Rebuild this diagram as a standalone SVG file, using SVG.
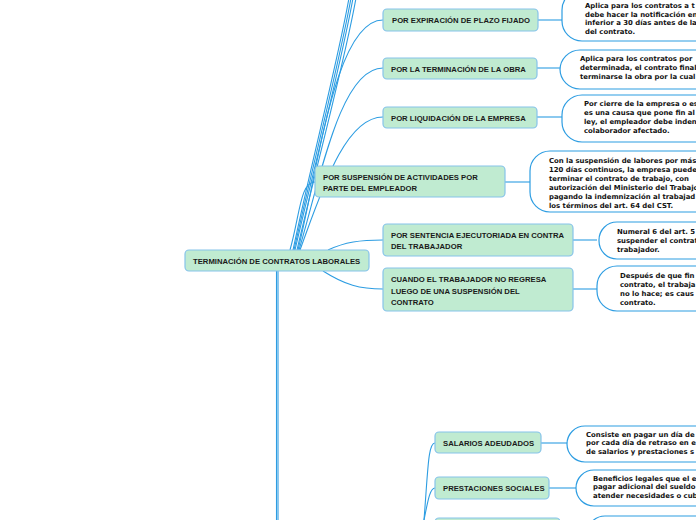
<svg xmlns="http://www.w3.org/2000/svg" width="696" height="520" viewBox="0 0 696 520">
<style>
.n rect{fill:#c0ebd1;stroke:#86c3ea;stroke-width:1.2}
.n text{font-family:"Liberation Sans",Arial,sans-serif;font-weight:bold;font-size:7.7px;fill:#1a1a1a}
.d path{fill:#fff;stroke:#2d9de2;stroke-width:1.2}
.d text{font-family:"DejaVu Sans",Verdana,sans-serif;font-weight:bold;font-size:6.9px;fill:#111}
.c path{fill:none;stroke:#2d9de2;stroke-width:1.1}
</style>
<rect width="696" height="520" fill="#fff"/>
<g class="c" id="connectors">
<path d="M293 250 C312 160 338 60 349 -2"/>
<path d="M294 250 C314 160 340 60 351 -2"/>
<path d="M295 250 C316 160 342 60 353 -2"/>
<path d="M297 250 C318 160 345 60 356 -2"/>
<path d="M298 250 C318 170 335 20 383 20"/>
<path d="M299 250 C320 180 340 68 383 68"/>
<path d="M300 250 C322 190 345 117 383 117"/>
<path d="M290 250 C300 215 300 182 315 182"/>
<path d="M328 250 C345 242 360 240 383 240"/>
<path d="M323 271 C345 285 360 289 383 289"/>
<path d="M276.5 271 L276.5 520" stroke-width="1.4"/>
<path d="M278 271 L278 520" stroke-width="1.4"/>
<path d="M538 20 L562 20"/>
<path d="M537 68 L560 68"/>
<path d="M537 117 L562 117"/>
<path d="M505 182 L530 182"/>
<path d="M573 240 L597 240"/>
<path d="M573 289 L597 289"/>
<path d="M541 443 L567 443"/>
<path d="M549 488 L576 488"/>
<path d="M424 520 C428 470 428 443 435 443"/>
<path d="M424 520 C428 500 430 488 435 488"/>
</g>
<g class="n" id="central"><rect x="185" y="250" width="184" height="21" rx="4"/><text x="193" y="264">TERMINACIÓN DE CONTRATOS LABORALES</text></g>
<g class="n" id="n1"><rect x="383" y="9" width="155" height="22" rx="4"/><text x="392" y="23">POR EXPIRACIÓN DE PLAZO FIJADO</text></g>
<g class="n" id="n2"><rect x="383" y="58" width="154" height="21" rx="4"/><text x="391" y="72">POR LA TERMINACIÓN DE LA OBRA</text></g>
<g class="n" id="n3"><rect x="383" y="107" width="154" height="21" rx="4"/><text x="391" y="121">POR LIQUIDACIÓN DE LA EMPRESA</text></g>
<g class="n" id="n4"><rect x="315" y="166" width="190" height="31" rx="4"/><text x="323" y="180">POR SUSPENSIÓN DE ACTIVIDADES POR</text><text x="323" y="191">PARTE DEL EMPLEADOR</text></g>
<g class="n" id="n5"><rect x="383" y="224" width="190" height="32" rx="4"/><text x="391" y="238">POR SENTENCIA EJECUTORIADA EN CONTRA</text><text x="391" y="249">DEL TRABAJADOR</text></g>
<g class="n" id="n6"><rect x="383" y="268" width="190" height="43" rx="4"/><text x="391" y="282">CUANDO EL TRABAJADOR NO REGRESA</text><text x="391" y="294">LUEGO DE UNA SUSPENSIÓN DEL</text><text x="391" y="305">CONTRATO</text></g>
<g class="n" id="n7"><rect x="435" y="432" width="106" height="21" rx="4"/><text x="443" y="446">SALARIOS ADEUDADOS</text></g>
<g class="n" id="n8"><rect x="435" y="477" width="114" height="22" rx="4"/><text x="443" y="491">PRESTACIONES SOCIALES</text></g>
<g class="n" id="n9"><rect x="435" y="518" width="125" height="20" rx="4"/></g>
<g class="d" id="d1"><path d="M720 -10 L582 -10 A20 20 0 0 0 562 10 L562 21 A20 20 0 0 0 582 41 L720 41"/><text x="585" y="8">Aplica para los contratos a t</text><text x="585" y="17">debe hacer la notificación en</text><text x="585" y="25">inferior a 30 días antes de la</text><text x="585" y="34">del contrato.</text></g>
<g class="d" id="d2"><path d="M720 50 L580 50 A20 20 0 0 0 560 70 L560 69 A20 20 0 0 0 580 89 L720 89"/><text x="580" y="61">Aplica para los contratos por</text><text x="580" y="70">determinada, el contrato final</text><text x="580" y="79">terminarse la obra por la cual</text></g>
<g class="d" id="d3"><path d="M720 95 L582 95 A20 20 0 0 0 562 115 L562 122 A20 20 0 0 0 582 142 L720 142"/><text x="584" y="106">Por cierre de la empresa o es</text><text x="584" y="115">es una causa que pone fin al</text><text x="584" y="124">ley, el empleador debe inden</text><text x="584" y="133">colaborador afectado.</text></g>
<g class="d" id="d4"><path d="M720 151 L550 151 A20 20 0 0 0 530 171 L530 192 A20 20 0 0 0 550 212 L720 212"/><text x="549" y="163">Con la suspensión de labores por más</text><text x="549" y="172">120 días continuos, la empresa puede</text><text x="549" y="181">terminar el contrato de trabajo, con</text><text x="549" y="190">autorización del Ministerio del Trabajo</text><text x="549" y="199">pagando la indemnización al trabajad</text><text x="549" y="208">los términos del art. 64 del CST.</text></g>
<g class="d" id="d5"><path d="M720 222 L617 222 A18 18 0 0 0 599 240 L599 241 A18 18 0 0 0 617 259 L720 259"/><text x="617" y="234">Numeral 6 del art. 5</text><text x="617" y="243">suspender el contrat</text><text x="617" y="252">trabajador.</text></g>
<g class="d" id="d6"><path d="M720 266 L617 266 A20 20 0 0 0 597 286 L597 291 A20 20 0 0 0 617 311 L720 311"/><text x="620" y="278">Después de que fin</text><text x="620" y="287">contrato, el trabaja</text><text x="620" y="296">no lo hace; es caus</text><text x="620" y="305">contrato.</text></g>
<g class="d" id="d7"><path d="M720 426 L585 426 A18 18 0 0 0 567 444 L567 444 A18 18 0 0 0 585 462 L720 462"/><text x="586" y="437">Consiste en pagar un día de</text><text x="586" y="445">por cada día de retraso en e</text><text x="586" y="454">de salarios y prestaciones s</text></g>
<g class="d" id="d8"><path d="M720 470 L594 470 A18 18 0 0 0 576 488 L576 488 A18 18 0 0 0 594 506 L720 506"/><text x="593" y="481">Beneficios legales que el e</text><text x="593" y="489">pagar adicional del sueldo</text><text x="593" y="498">atender necesidades o cub</text></g>
<g class="d" id="d9"><path d="M720 516 L605 516 A18 18 0 0 0 587 534"/></g>
</svg>
